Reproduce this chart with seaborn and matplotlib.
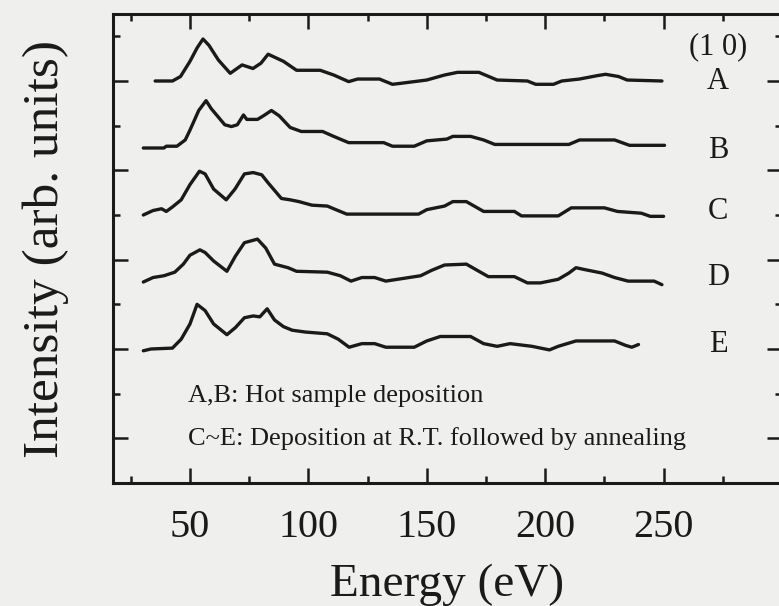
import numpy as np
import pandas as pd
import matplotlib
matplotlib.use("Agg")
import matplotlib.pyplot as plt
import seaborn as sns
from matplotlib.ticker import MultipleLocator

sns.set_theme(style="ticks")
plt.rcParams['font.family'] = ['Liberation Serif', 'DejaVu Serif']

# ---- data ----
curve_names = ["A", "B", "C", "D", "E"]
curve_offsets = [4.0, 3.25, 2.5, 1.75, 1.0]

energy_A = [35.3, 42.6, 46, 50, 53, 55.5, 58, 62, 67, 72, 76.6, 80, 83, 89.5, 95, 105, 110.7, 117,
            120.8, 130, 135.5, 139, 150, 157.5, 163, 172, 179.7, 192.5, 196, 203.5, 207, 214.5,
            222, 225.5, 231, 234.6, 249.3]
intensity_A = [0, 0, 0.05, 0.22, 0.37, 0.47, 0.40, 0.235, 0.086, 0.18, 0.14, 0.20, 0.30, 0.22, 0.12,
               0.12, 0.067, -0.007, 0.022, 0.022, -0.037, -0.026, 0.011, 0.067, 0.097, 0.097, 0.011,
               0, -0.037, -0.037, 0, 0.022, 0.06, 0.075, 0.05, 0.011, 0]

energy_B = [30.3, 39, 40, 44.5, 48, 50, 53.7, 56.8, 59, 64.7, 67.5, 70, 72.6, 74, 78.5, 81, 84.4,
            87.7, 92.3, 97, 106, 110.7, 117, 131.8, 135.5, 144.7, 150, 158.5, 161, 168.5, 174,
            178.7, 210, 214.5, 229.3, 235.6, 250.4]
intensity_B = [0, 0, 0.02, 0.02, 0.09, 0.2, 0.42, 0.53, 0.44, 0.26, 0.24, 0.26, 0.37, 0.32, 0.32,
               0.36, 0.42, 0.36, 0.23, 0.185, 0.185, 0.13, 0.06, 0.06, 0.02, 0.02, 0.08, 0.10, 0.13,
               0.13, 0.09, 0.04, 0.04, 0.09, 0.09, 0.03, 0.03]

energy_C = [30.3, 34.4, 38, 40, 42.6, 46.3, 50, 54, 56.4, 60, 65.3, 69, 73, 76.7, 80.3, 83, 88.6,
            92.3, 96, 101.5, 108, 111.6, 116.2, 146.5, 150, 157.5, 161, 166.7, 174, 187, 190,
            205.5, 211, 225, 230.5, 240.6, 244.4, 250]
intensity_C = [0, 0.05, 0.07, 0.04, 0.09, 0.17, 0.34, 0.49, 0.46, 0.29, 0.17, 0.29, 0.46, 0.475,
               0.45, 0.36, 0.185, 0.17, 0.15, 0.11, 0.10, 0.06, 0.01, 0.01, 0.06, 0.10, 0.15, 0.15,
               0.04, 0.04, -0.01, -0.01, 0.08, 0.08, 0.04, 0.02, -0.015, -0.015]

energy_D = [30.3, 34.4, 39, 43.6, 47.2, 50, 54.2, 56.4, 60, 65.6, 69.2, 73, 78.5, 82, 85.7, 91.4,
            95, 108, 113.5, 118, 122.6, 128, 132.7, 147.4, 152, 157.5, 166.7, 172, 176, 187,
            192.5, 198, 205.5, 210, 213, 216.5, 224, 229.3, 235, 246, 249.3]
intensity_D = [0, 0.05, 0.07, 0.11, 0.2, 0.3, 0.36, 0.33, 0.235, 0.12, 0.29, 0.44, 0.48, 0.38, 0.2,
               0.16, 0.12, 0.11, 0.07, 0.01, 0.05, 0.05, 0.01, 0.07, 0.13, 0.19, 0.2, 0.12, 0.06,
               0.06, -0.01, -0.01, 0.03, 0.10, 0.16, 0.14, 0.10, 0.05, 0.01, 0.01, -0.03]

energy_E = [30.3, 33.5, 42.6, 46.3, 50, 53, 56.4, 60, 65.6, 69.2, 73, 76.7, 79.5, 82.6, 85.7, 89.5,
            93.2, 98.7, 108, 112.6, 117.2, 122.6, 128, 132.7, 144.7, 150, 155.7, 168.5, 174,
            179.7, 185.2, 194.4, 201.8, 205.5, 213, 229.3, 234, 236.6, 239.4]
intensity_E = [-0.02, 0, 0.01, 0.11, 0.28, 0.5, 0.43, 0.28, 0.16, 0.24, 0.35, 0.37, 0.36, 0.45,
               0.325, 0.25, 0.21, 0.19, 0.17, 0.11, 0.02, 0.06, 0.06, 0.02, 0.02, 0.09, 0.14, 0.14,
               0.06, 0.03, 0.06, 0.03, -0.01, 0.03, 0.09, 0.09, 0.04, 0.02, 0.05]

x_ticks = [50, 100, 150, 200, 250]
series = {"A": (energy_A, intensity_A), "B": (energy_B, intensity_B),
          "C": (energy_C, intensity_C), "D": (energy_D, intensity_D),
          "E": (energy_E, intensity_E)}

# ---- figure ----
bg = "#efefed"
fig = plt.figure(figsize=(7.79, 6.06), dpi=100, facecolor=bg)
ax = fig.add_axes([113/779, 123/606, (782-113)/779, (483-14)/606])
ax.set_facecolor(bg)

frames = []
for name, off in zip(curve_names, curve_offsets):
    e, i = series[name]
    frames.append(pd.DataFrame({"Energy": e, "Intensity": np.array(i) + off, "curve": name}))
df = pd.concat(frames, ignore_index=True)

for name in curve_names:
    sub = df[df["curve"] == name]
    sns.lineplot(data=sub, x="Energy", y="Intensity", color="#1a1a1a", linewidth=2.4,
                 sort=False, estimator=None, ax=ax, legend=False)

ax.set_xlim(17.5, 300)
ax.set_ylim(-0.5, 4.75)
ax.xaxis.set_major_locator(MultipleLocator(50))
ax.xaxis.set_minor_locator(MultipleLocator(25))
ax.yaxis.set_major_locator(MultipleLocator(1))
ax.yaxis.set_minor_locator(MultipleLocator(0.5))
ax.set_xticks(x_ticks)
ax.set_xticklabels([str(v) for v in x_ticks])
ax.set_yticklabels([])
ax.tick_params(which="both", direction="in", top=True, right=True, colors="#1a1a1a", width=1.8)
ax.tick_params(which="major", length=11, labelsize=29, pad=19)
ax.tick_params(which="minor", length=5)
ax.tick_params(axis="y", which="both", labelleft=False)
for s in ax.spines.values():
    s.set_linewidth(2.2)
    s.set_color("#1a1a1a")

ax.set_xlabel("Energy (eV)", fontsize=34, color="#1a1a1a", labelpad=12)
ax.set_ylabel("Intensity (arb. units)", fontsize=37, color="#1a1a1a", labelpad=32)

label_y = [3.99, 3.22, 2.54, 1.80, 1.05]
for name, ly in zip(curve_names, label_y):
    ax.text(273, ly, name, fontsize=22, ha="center", va="center", color="#1a1a1a")
ax.text(273, 4.38, "(1 0)", fontsize=22, ha="center", va="center", color="#1a1a1a")

ax.text(49, 0.47, "A,B: Hot sample deposition", fontsize=19, ha="left", va="center", color="#1a1a1a")
ax.text(49, 0.0, "C~E: Deposition at R.T. followed by annealing", fontsize=19, ha="left",
        va="center", color="#1a1a1a")

fig.savefig("out.png", dpi=100, facecolor=bg)
